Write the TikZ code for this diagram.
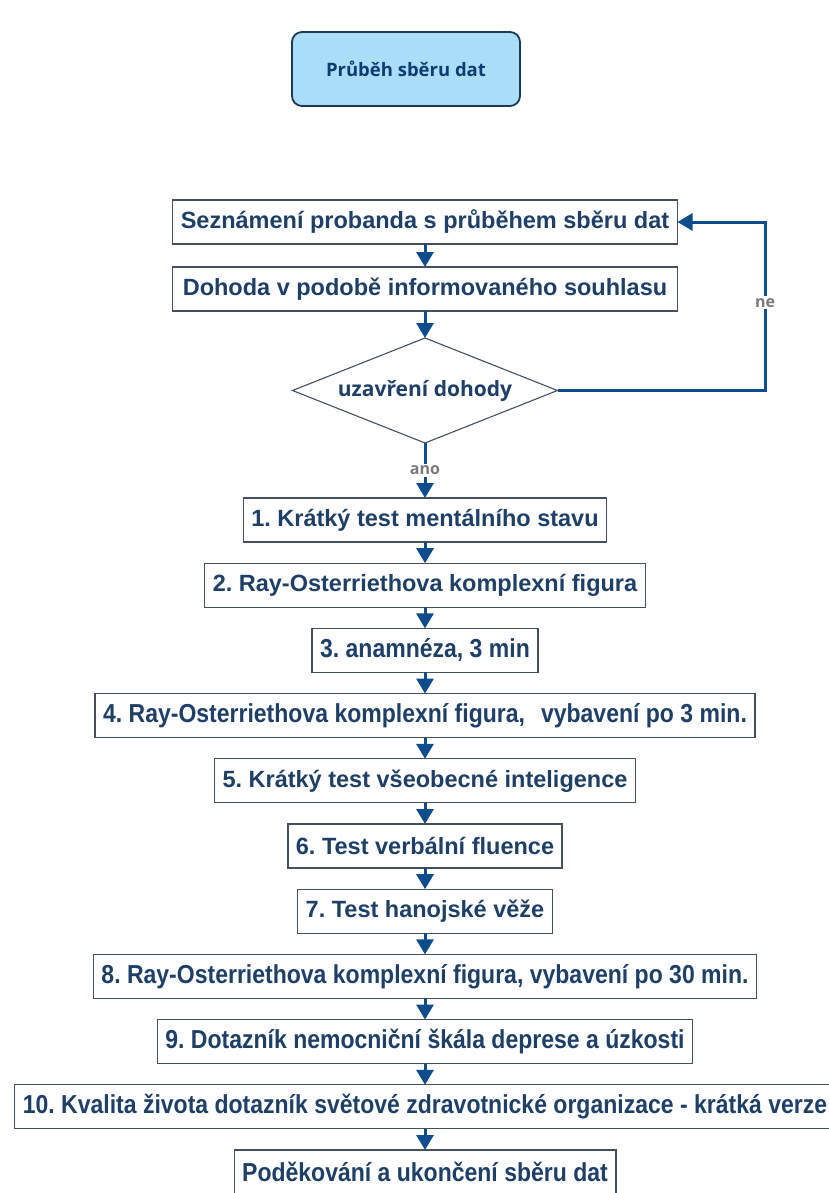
\documentclass[tikz,border=0pt]{standalone}
\usepackage{fontspec}
\setmainfont{Liberation Sans}
\newfontfamily\narrowfont[FakeStretch=0.885]{Liberation Sans}
\newfontfamily\opensans{Open Sans}
\usetikzlibrary{shapes.geometric, arrows.meta, positioning}

\definecolor{boxline}{HTML}{45505B}
\definecolor{boxtext}{HTML}{1E3F66}
\definecolor{flowblue}{HTML}{0E4C8C}
\definecolor{titlefill}{HTML}{AADDF8}
\definecolor{titleline}{HTML}{1D3A55}
\definecolor{labelgray}{HTML}{7A7A7A}
\frenchspacing

\begin{document}
\begin{tikzpicture}[
    x=1pt, y=-1pt,
    node distance=21.2pt,
    stepbox/.style={rectangle, draw=boxline, line width=1.3pt, fill=white, minimum height=44pt, inner xsep=8pt, inner ysep=0pt, outer sep=0pt, text=boxtext, font=\fontsize{23.5}{26}\selectfont\bfseries},
    narrowbox/.style={stepbox, font=\fontsize{26}{28}\selectfont\narrowfont\bfseries},
    titlebox/.style={rectangle, rounded corners=10pt, draw=titleline, line width=1.8pt, fill=titlefill, minimum width=228pt, minimum height=74pt, text=titletext, font=\fontsize{18.5}{22}\selectfont\opensans\bfseries},
    decision/.style={diamond, draw=boxline, line width=1.1pt, fill=white, aspect=2.52, inner sep=0pt, outer sep=0pt, minimum width=265pt, minimum height=105pt, text=boxtext, font=\fontsize{21}{24}\selectfont\opensans\bfseries},
    flowlabel/.style={fill=white, inner sep=2pt, text=labelgray, font=\fontsize{16}{18}\selectfont\opensans\bfseries},
    arrow/.style={-{Triangle[width=17pt, length=15pt]}, line width=3pt, draw=flowblue}
]
\colorlet{titletext}{flowblue!80!black}
\useasboundingbox (0,0) rectangle (828,1193);

% header
\node[titlebox] (title) at (406,69) {Průběh sběru dat};

% agreement part
\node[stepbox, minimum width=505pt] (seznam) at (425,222) {Seznámení probanda s průběhem sběru dat};
\node[stepbox, minimum width=505pt, below=23pt of seznam] (dohoda) {Dohoda v podobě informovaného souhlasu};
\node[decision, below=27pt of dohoda] (uzavreni) {uzavření dohody};

\draw[arrow] (seznam) -- (dohoda);
\draw[arrow] (dohoda) -- (uzavreni);
\coordinate (nebend) at (765,0);
\draw[arrow] (uzavreni.east) -- (uzavreni.east -| nebend) |- node[flowlabel, pos=0.26] {ne} (seznam.east);

% test battery
\node[stepbox, below=55pt of uzavreni] (krok1) {1. Krátký test mentálního stavu};
\node[stepbox, below=of krok1] (krok2) {2. Ray-Osterriethova komplexní figura};
\node[narrowbox, below=of krok2] (krok3) {3. anamnéza, 3 min};
\node[narrowbox, below=of krok3] (krok4) {4. Ray-Osterriethova komplexní figura,\hspace{16pt}vybavení po 3 min.};
\node[stepbox, below=of krok4] (krok5) {5. Krátký test všeobecné inteligence};
\node[stepbox, below=of krok5] (krok6) {6. Test verbální fluence};
\node[stepbox, below=of krok6] (krok7) {7. Test hanojské věže};
\node[narrowbox, below=of krok7] (krok8) {8. Ray-Osterriethova komplexní figura, vybavení po 30 min.};
\node[narrowbox, below=of krok8] (krok9) {9. Dotazník nemocniční škála deprese a úzkosti};
\node[narrowbox, below=of krok9] (krok10) {10. Kvalita života dotazník světové zdravotnické organizace - krátká verze};
\node[narrowbox, below=of krok10] (konec) {Poděkování a ukončení sběru dat};

\draw[arrow] (uzavreni) -- node[flowlabel] {ano} (krok1);
\draw[arrow] (krok1) -- (krok2);
\draw[arrow] (krok2) -- (krok3);
\draw[arrow] (krok3) -- (krok4);
\draw[arrow] (krok4) -- (krok5);
\draw[arrow] (krok5) -- (krok6);
\draw[arrow] (krok6) -- (krok7);
\draw[arrow] (krok7) -- (krok8);
\draw[arrow] (krok8) -- (krok9);
\draw[arrow] (krok9) -- (krok10);
\draw[arrow] (krok10) -- (konec);

\end{tikzpicture}
\end{document}
